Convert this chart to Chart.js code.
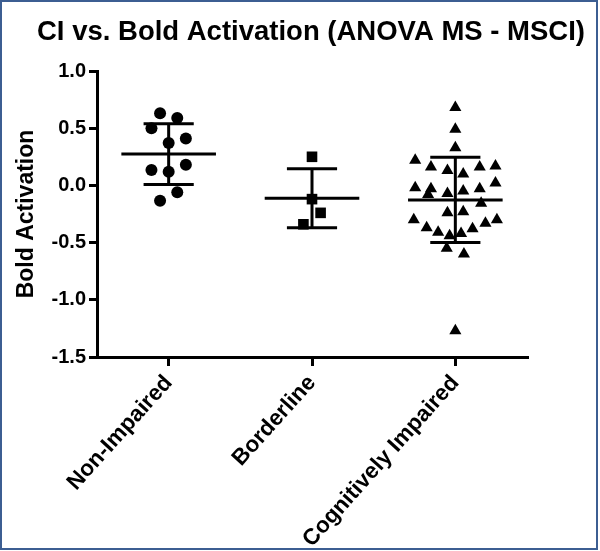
<!DOCTYPE html>
<html>
<head>
<meta charset="utf-8">
<script src="https://cdn.jsdelivr.net/npm/chart.js@4.4.0/dist/chart.umd.min.js"></script>
<style>
  html, body { margin: 0; padding: 0; background: #fff; }
  #wrap { position: absolute; left: 0; top: 0; width: 600px; height: 551px; }
  #frame { position: absolute; left: 0; top: 0; width: 594px; height: 546px;
           border: 2px solid #3c5e92; pointer-events: none; }
</style>
</head>
<body>
<div id="wrap"><canvas id="chart"></canvas></div>
<div id="frame"></div>
<script>
let categories = ['Non-Impaired', 'Borderline', 'Cognitively Impaired'];
let yTicks = [-1.5, -1.0, -0.5, 0.0, 0.5, 1.0];

// bold activation per subject
let nonImpaired = [0.63, 0.59, 0.50, 0.41, 0.37, 0.18, 0.135, 0.12, -0.06, -0.135];
let borderline = [0.25, -0.12, -0.24, -0.34];
let cogImpaired = [0.68, 0.49, 0.33, 0.22, 0.16, 0.13, 0.10, 0.16, 0.17,
    -0.02, -0.03, -0.08, -0.07, -0.05, -0.03, 0.02, -0.155, -0.24, -0.23,
    -0.30, -0.37, -0.41, -0.44, -0.42, -0.38, -0.33, -0.30, -0.55, -0.60, -1.27];

// horizontal scatter of the points inside each column (category units)
let nonImpairedJitter = [-0.06, 0.06, -0.12, 0.12, 0, 0.12, -0.12, 0, 0.06, -0.06];
let borderlineJitter = [0, 0, 0.06, -0.06];
let cogImpairedJitter = [0, 0, 0, -0.28, -0.17, -0.055, 0.055, 0.17, 0.28,
    -0.28, -0.17, -0.19, -0.055, 0.055, 0.17, 0.28, 0.18, -0.055, 0.055,
    -0.29, -0.2, -0.12, -0.04, 0.04, 0.12, 0.21, 0.29, -0.06, 0.06, 0];

let groups = [nonImpaired, borderline, cogImpaired];
let jitters = [nonImpairedJitter, borderlineJitter, cogImpairedJitter];
let shapes = ['circle', 'rect', 'triangle'];
let sizes = [6, 7.5, 7];

function mean(arr) {
    let s = 0;
    for (let i = 0; i < arr.length; i++) s += arr[i];
    return s / arr.length;
}
function sd(arr) {
    let m = mean(arr);
    let s = 0;
    for (let i = 0; i < arr.length; i++) s += (arr[i] - m) * (arr[i] - m);
    return Math.sqrt(s / (arr.length - 1));
}

let datasets = [];

for (let g = 0; g < groups.length; g++) {
    let pts = [];
    for (let i = 0; i < groups[g].length; i++) {
        pts.push({ x: g + jitters[g][i], y: groups[g][i] });
    }
    datasets.push({
        type: 'scatter',
        data: pts,
        pointStyle: shapes[g],
        pointRadius: sizes[g],
        pointBorderWidth: 0,
        pointBackgroundColor: '#000',
        pointBorderColor: '#000'
    });
}

// mean and SD bars
function barLine(pts) {
    return {
        type: 'line',
        data: pts,
        borderColor: '#000',
        borderWidth: 3,
        pointRadius: 0,
        fill: false
    };
}
for (let g = 0; g < groups.length; g++) {
    let m = mean(groups[g]);
    let s = sd(groups[g]);
    datasets.push(barLine([{ x: g - 0.33, y: m }, { x: g + 0.33, y: m }]));
    datasets.push(barLine([{ x: g - 0.175, y: m + s }, { x: g + 0.175, y: m + s }]));
    datasets.push(barLine([{ x: g - 0.175, y: m - s }, { x: g + 0.175, y: m - s }]));
    datasets.push(barLine([{ x: g, y: m + s }, { x: g, y: m - s }]));
}

let ctx = document.getElementById('chart').getContext('2d');
let fontFamily = '"Liberation Sans", Arial, sans-serif';

new Chart(ctx, {
    type: 'scatter',
    data: { datasets: datasets },
    options: {
        responsive: true,
        maintainAspectRatio: false,
        animation: false,
        layout: { padding: { left: 30, right: 8, top: 0, bottom: 0 } },
        plugins: {
            legend: { display: false },
            tooltip: { enabled: false },
            title: {
                display: true,
                text: 'CI vs. Bold Activation (ANOVA MS - MSCI)',
                color: '#000',
                font: { family: fontFamily, size: 27.5, weight: 'bold', lineHeight: 1.2 },
                padding: { top: 16, bottom: 22 }
            }
        },
        scales: {
            x: {
                type: 'linear',
                min: -0.5,
                max: 2.5,
                afterBuildTicks: function (scale) {
                    scale.ticks = categories.map(function (c, i) { return { value: i }; });
                },
                afterFit: function (scale) { scale.height = 194; },
                ticks: {
                    color: '#000',
                    minRotation: 48,
                    maxRotation: 48,
                    padding: 4,
                    font: { family: fontFamily, size: 22.5, weight: 'bold' },
                    callback: function (v) { return categories[v]; }
                },
                grid: { drawOnChartArea: false, drawTicks: true, tickLength: 9, color: '#000', lineWidth: 3 },
                border: { color: '#000', width: 3 }
            },
            y: {
                min: -1.5,
                max: 1.0,
                afterBuildTicks: function (scale) {
                    scale.ticks = yTicks.map(function (v) { return { value: v }; });
                },
                afterFit: function (scale) { scale.width = 67; },
                ticks: {
                    color: '#000',
                    padding: 3,
                    font: { family: fontFamily, size: 20, weight: 'bold' },
                    callback: function (v) { return v.toFixed(1); }
                },
                title: {
                    display: true,
                    text: 'Bold Activation',
                    color: '#000',
                    padding: { top: -17, bottom: 0 },
                    font: { family: fontFamily, size: 23, weight: 'bold', lineHeight: 1.2 }
                },
                grid: { drawOnChartArea: false, drawTicks: true, tickLength: 8, color: '#000', lineWidth: 3 },
                border: { color: '#000', width: 3 }
            },
            // empty right-hand axis, only reserves the margin right of the plot
            yRight: {
                position: 'right',
                display: true,
                afterFit: function (scale) { scale.width = 65; },
                ticks: { display: false },
                grid: { display: false },
                border: { display: false }
            }
        }
    }
});
</script>
</body>
</html>
